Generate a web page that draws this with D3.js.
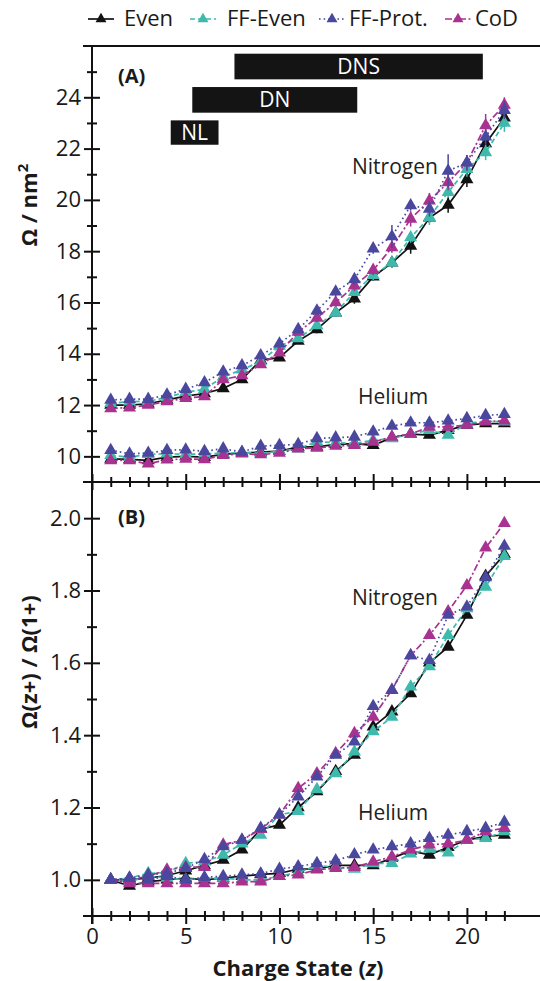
<!DOCTYPE html>
<html lang="en">
<head>
<meta charset="UTF-8">
<title>Collision cross sections vs charge state</title>
<script src="https://cdn.jsdelivr.net/npm/d3@7/dist/d3.min.js"></script>
<style>
  body { margin: 0; background: #fff; }
  svg text { font-family: "Open Sans", "DejaVu Sans", sans-serif; fill: #1a1a1a; }
</style>
</head>
<body>
<script>

    var width = 540;
    var height = 981;

    // ---- data ----
    var chargeStates = [1, 2, 3, 4, 5, 6, 7, 8, 9, 10, 11, 12, 13, 14, 15, 16, 17, 18, 19, 20, 21, 22];
    var seriesNames = ["Even", "FF-Even", "FF-Prot.", "CoD"];

    // panel A, nitrogen, Omega / nm^2
    var nitroEvenA = [12.0, 12.0, 12.05, 12.2, 12.35, 12.45, 12.65, 13.0, 13.75, 13.85, 14.5, 14.95, 15.6, 16.15, 17.0, 17.55, 18.2, 19.3, 19.8, 20.8, 22.2, 23.2];
    var nitroFFEvenA = [12.07, 12.13, 12.15, 12.3, 12.5, 12.62, 13.1, 13.38, 13.7, 14.3, 14.6, 15.1, 15.6, 16.4, 17.06, 17.55, 18.53, 19.32, 20.3, 21.2, 21.85, 23.0];
    var nitroFFProtA = [12.2, 12.23, 12.23, 12.4, 12.62, 12.88, 13.3, 13.54, 13.93, 14.39, 14.95, 15.68, 16.42, 16.9, 18.1, 18.57, 19.78, 19.65, 21.13, 21.45, 22.46, 23.5];
    var nitroCoDA = [11.87, 11.9, 12.0, 12.14, 12.27, 12.33, 13.0, 13.15, 13.58, 14.04, 14.85, 15.4, 16.0, 16.65, 17.26, 18.14, 19.26, 19.97, 20.68, 21.45, 22.9, 23.7];
    var nitroEvenErr = [0.05, 0.05, 0.05, 0.05, 0.05, 0.05, 0.1, 0.1, 0.1, 0.1, 0.1, 0.15, 0.15, 0.2, 0.15, 0.2, 0.3, 0.2, 0.3, 0.3, 0.3, 0.35];
    var nitroFFEvenErr = [0.05, 0.05, 0.05, 0.05, 0.05, 0.05, 0.1, 0.1, 0.1, 0.1, 0.1, 0.1, 0.15, 0.15, 0.2, 0.2, 0.2, 0.3, 0.2, 0.3, 0.3, 0.35];
    var nitroFFProtErr = [0.05, 0.05, 0.05, 0.05, 0.05, 0.05, 0.1, 0.1, 0.1, 0.1, 0.15, 0.15, 0.2, 0.2, 0.2, 0.45, 0.2, 0.3, 0.65, 0.3, 0.3, 0.35];
    var nitroCoDErr = [0.05, 0.05, 0.05, 0.05, 0.05, 0.05, 0.1, 0.1, 0.1, 0.1, 0.1, 0.15, 0.15, 0.2, 0.2, 0.2, 0.3, 0.3, 0.3, 0.3, 0.45, 0.3];

    // panel A, helium
    var heliumEvenA = [9.9, 9.88, 9.84, 9.97, 10.0, 9.97, 10.08, 10.13, 10.17, 10.2, 10.37, 10.37, 10.47, 10.5, 10.43, 10.73, 10.87, 10.83, 11.02, 11.22, 11.28, 11.28];
    var heliumFFEvenA = [10.04, 9.97, 10.08, 10.1, 10.08, 10.1, 10.12, 10.15, 10.12, 10.2, 10.3, 10.57, 10.53, 10.5, 10.63, 10.7, 10.87, 11.02, 10.83, 11.28, 11.37, 11.35];
    var heliumFFProtA = [10.24, 10.1, 10.13, 10.24, 10.26, 10.2, 10.3, 10.17, 10.4, 10.43, 10.47, 10.7, 10.73, 10.76, 10.96, 11.18, 11.31, 11.31, 11.39, 11.48, 11.6, 11.64];
    var heliumCoDA = [9.84, 9.84, 9.71, 9.87, 9.9, 9.88, 10.04, 10.1, 10.07, 10.13, 10.3, 10.33, 10.4, 10.43, 10.56, 10.76, 10.87, 11.15, 11.15, 11.22, 11.35, 11.39];

    // panel B, Omega(z+) / Omega(1+)
    var nitroEvenB = [1.0, 1.0, 1.005, 1.012, 1.025, 1.04, 1.055, 1.083, 1.14, 1.152, 1.2, 1.244, 1.3, 1.345, 1.423, 1.465, 1.515, 1.6, 1.644, 1.732, 1.84, 1.9];
    var nitroFFEvenB = [1.0, 1.005, 1.018, 1.02, 1.046, 1.05, 1.069, 1.1, 1.124, 1.18, 1.19, 1.25, 1.294, 1.354, 1.41, 1.45, 1.534, 1.59, 1.676, 1.75, 1.81, 1.895];
    var nitroFFProtB = [1.0, 1.005, 1.014, 1.018, 1.032, 1.057, 1.092, 1.11, 1.143, 1.18, 1.23, 1.285, 1.345, 1.382, 1.48, 1.524, 1.62, 1.607, 1.732, 1.755, 1.836, 1.923];
    var nitroCoDB = [1.0, 1.0, 1.01, 1.028, 1.035, 1.035, 1.097, 1.11, 1.14, 1.18, 1.253, 1.294, 1.35, 1.405, 1.45, 1.525, 1.62, 1.676, 1.742, 1.814, 1.918, 1.986];
    var heliumEvenB = [1.0, 0.983, 0.995, 1.0, 1.005, 1.0, 1.005, 1.01, 1.015, 1.018, 1.03, 1.03, 1.04, 1.04, 1.04, 1.06, 1.08, 1.069, 1.09, 1.11, 1.12, 1.124];
    var heliumFFEvenB = [1.0, 0.995, 1.01, 1.005, 1.0, 1.005, 1.005, 1.0, 1.0, 1.01, 1.02, 1.04, 1.035, 1.03, 1.045, 1.046, 1.072, 1.085, 1.075, 1.11, 1.115, 1.134];
    var heliumFFProtB = [1.0, 1.005, 1.0, 1.01, 1.0, 1.007, 1.01, 1.014, 1.017, 1.03, 1.037, 1.046, 1.053, 1.07, 1.083, 1.092, 1.1, 1.115, 1.124, 1.134, 1.143, 1.16];
    var heliumCoDB = [1.0, 0.99, 0.99, 0.99, 0.99, 0.99, 0.99, 0.995, 0.995, 1.01, 1.014, 1.028, 1.032, 1.035, 1.05, 1.064, 1.083, 1.097, 1.1, 1.11, 1.134, 1.143];

    var xTickLabels = [0, 5, 10, 15, 20];
    var yTickLabelsA = [10, 12, 14, 16, 18, 20, 22, 24];
    var yTickLabelsB = [1.0, 1.2, 1.4, 1.6, 1.8, 2.0];

    // ---- styles ----
    var colors = ["#121212", "#3fb9ac", "#4a479f", "#a8328f"];
    var dashes = [null, "5,3", "1.6,3", "7,2.5,2,2.5"];
    var drawOrder = [0, 1, 3, 2];

    var svg = d3.select("body").append("svg")
        .attr("width", width)
        .attr("height", height);

    var left = 92;
    var xScale = d3.scaleLinear().domain([0, 23.9]).range([left, width]);
    var yA = d3.scaleLinear().domain([9, 26]).range([482, 46]);
    var yB = d3.scaleLinear().domain([0.9, 2.1]).range([916, 482]);

    var tri = d3.symbol().type(d3.symbolTriangle).size(74);

    function drawSeries(yScale, values, i, errs) {
        var pts = chargeStates.map(function (z, k) { return {x: z, y: values[k], e: errs ? errs[k] : 0}; });
        var line = d3.line()
            .x(function (d) { return xScale(d.x); })
            .y(function (d) { return yScale(d.y); });
        var g = svg.append("g");
        g.append("path")
            .attr("d", line(pts))
            .attr("fill", "none")
            .attr("stroke", colors[i])
            .attr("stroke-width", 1.7)
            .attr("stroke-dasharray", dashes[i]);
        if (errs) {
            g.selectAll("line.err").data(pts).enter().append("line")
                .attr("x1", function (d) { return xScale(d.x); })
                .attr("x2", function (d) { return xScale(d.x); })
                .attr("y1", function (d) { return yScale(d.y - d.e); })
                .attr("y2", function (d) { return yScale(d.y + d.e); })
                .attr("stroke", colors[i])
                .attr("stroke-width", 1.5);
        }
        g.selectAll("path.m").data(pts).enter().append("path")
            .attr("d", tri)
            .attr("transform", function (d) { return "translate(" + xScale(d.x) + "," + yScale(d.y) + ")"; })
            .attr("fill", colors[i]);
    }

    var panelA = [
        [nitroEvenA, nitroFFEvenA, nitroFFProtA, nitroCoDA],
        [heliumEvenA, heliumFFEvenA, heliumFFProtA, heliumCoDA]
    ];
    var errA = [nitroEvenErr, nitroFFEvenErr, nitroFFProtErr, nitroCoDErr];
    var panelB = [
        [nitroEvenB, nitroFFEvenB, nitroFFProtB, nitroCoDB],
        [heliumEvenB, heliumFFEvenB, heliumFFProtB, heliumCoDB]
    ];

    drawOrder.forEach(function (i) {
        drawSeries(yA, panelA[1][i], i, null);
        drawSeries(yA, panelA[0][i], i, errA[i]);
        drawSeries(yB, panelB[1][i], i, null);
        drawSeries(yB, panelB[0][i], i, null);
    });

    // ---- axes ----
    var minorX = chargeStates.filter(function (z) { return z % 5 !== 0; });
    var majorX = xTickLabels;

    function styleAxis(g) {
        g.selectAll(".domain").remove();
        g.selectAll("line").attr("stroke", "#111").attr("stroke-width", 2);
        g.selectAll("text").attr("font-size", 22).attr("fill", "#1a1a1a")
            .style("font-family", "'Open Sans', sans-serif");
    }

    function crossTicksX(yPos, withLabels) {
        [[minorX, 5], [majorX, 8]].forEach(function (t) {
            svg.append("g").attr("transform", "translate(0," + yPos + ")")
                .call(d3.axisBottom(xScale).tickValues(t[0]).tickSize(t[1]).tickFormat(""))
                .call(styleAxis);
            svg.append("g").attr("transform", "translate(0," + yPos + ")")
                .call(d3.axisBottom(xScale).tickValues(t[0]).tickSize(-t[1]).tickFormat(""))
                .call(styleAxis);
        });
        if (withLabels) {
            svg.append("g").attr("transform", "translate(0," + yPos + ")")
                .call(d3.axisBottom(xScale).tickValues(xTickLabels).tickSize(0).tickPadding(12).tickFormat(d3.format("d")))
                .call(styleAxis);
        }
        svg.append("line")
            .attr("x1", left - 9).attr("x2", width)
            .attr("y1", yPos).attr("y2", yPos)
            .attr("stroke", "#111").attr("stroke-width", 2);
    }

    function crossTicksY(scale, majors, minors, fmt) {
        [[minors, 5], [majors, 8]].forEach(function (t) {
            svg.append("g").attr("transform", "translate(" + left + ",0)")
                .call(d3.axisLeft(scale).tickValues(t[0]).tickSize(t[1]).tickFormat(""))
                .call(styleAxis);
            svg.append("g").attr("transform", "translate(" + left + ",0)")
                .call(d3.axisLeft(scale).tickValues(t[0]).tickSize(-t[1]).tickFormat(""))
                .call(styleAxis);
        });
        svg.append("g").attr("transform", "translate(" + left + ",0)")
            .call(d3.axisLeft(scale).tickValues(majors).tickSize(0).tickPadding(11).tickFormat(fmt))
            .call(styleAxis);
    }

    crossTicksY(yA, yTickLabelsA, [11, 13, 15, 17, 19, 21, 23, 25], d3.format("d"));
    crossTicksY(yB, yTickLabelsB, [1.1, 1.3, 1.5, 1.7, 1.9], d3.format(".1f"));
    crossTicksX(482, false);
    crossTicksX(916, true);

    svg.append("line")
        .attr("x1", left).attr("x2", left)
        .attr("y1", 46).attr("y2", 924)
        .attr("stroke", "#111").attr("stroke-width", 2);
    svg.append("line")
        .attr("x1", left - 9).attr("x2", width)
        .attr("y1", 46).attr("y2", 46)
        .attr("stroke", "#111").attr("stroke-width", 2);

    // ---- axis titles ----
    svg.append("text")
        .attr("transform", "translate(37,205) rotate(-90)")
        .attr("text-anchor", "middle")
        .attr("font-size", 22).attr("font-weight", "bold")
        .html('Ω / nm<tspan dy="-9" font-size="15">2</tspan>');
    svg.append("text")
        .attr("transform", "translate(37,662) rotate(-90)")
        .attr("text-anchor", "middle")
        .attr("font-size", 22).attr("font-weight", "bold")
        .text("Ω(z+) / Ω(1+)");
    svg.append("text")
        .attr("x", 298).attr("y", 976)
        .attr("text-anchor", "middle")
        .attr("font-size", 22).attr("font-weight", "bold")
        .html('Charge State (<tspan font-style="italic">z</tspan>)');

    // ---- panel labels and annotations ----
    svg.append("text").attr("x", 118).attr("y", 83)
        .attr("font-size", 20).attr("font-weight", "bold").text("(A)");
    svg.append("text").attr("x", 118).attr("y", 524)
        .attr("font-size", 20).attr("font-weight", "bold").text("(B)");

    var boxes = [
        {label: "DNS", z0: 7.6, z1: 20.85, v0: 25.7, v1: 24.7},
        {label: "DN", z0: 5.35, z1: 14.15, v0: 24.4, v1: 23.4},
        {label: "NL", z0: 4.2, z1: 6.75, v0: 23.1, v1: 22.15}
    ];
    boxes.forEach(function (b) {
        svg.append("rect")
            .attr("x", xScale(b.z0)).attr("y", yA(b.v0))
            .attr("width", xScale(b.z1) - xScale(b.z0))
            .attr("height", yA(b.v1) - yA(b.v0))
            .attr("fill", "#141414");
        svg.append("text")
            .attr("x", (xScale(b.z0) + xScale(b.z1)) / 2)
            .attr("y", (yA(b.v0) + yA(b.v1)) / 2 + 7.5)
            .attr("text-anchor", "middle")
            .attr("font-size", 21)
            .style("fill", "#fff")
            .text(b.label);
    });

    var notes = [
        {t: "Nitrogen", x: 352, y: 174},
        {t: "Helium", x: 358, y: 404},
        {t: "Nitrogen", x: 352, y: 605},
        {t: "Helium", x: 358, y: 820}
    ];
    notes.forEach(function (n) {
        svg.append("text").attr("x", n.x).attr("y", n.y)
            .attr("font-size", 21).style("fill", "#222").text(n.t);
    });

    // ---- legend ----
    var legendX = [101, 203, 332, 458];
    var textX = [124, 227, 349, 475];
    seriesNames.forEach(function (name, i) {
        var g = svg.append("g").attr("transform", "translate(" + legendX[i] + ",19)");
        g.append("line").attr("x1", -13).attr("x2", 13)
            .attr("stroke", colors[i]).attr("stroke-width", 1.7)
            .attr("stroke-dasharray", dashes[i]);
        g.append("path").attr("d", d3.symbol().type(d3.symbolTriangle).size(52)).attr("fill", colors[i]);
        svg.append("text").attr("x", textX[i]).attr("y", 26)
            .attr("font-size", 22).text(name);
    });

</script>
</body>
</html>
